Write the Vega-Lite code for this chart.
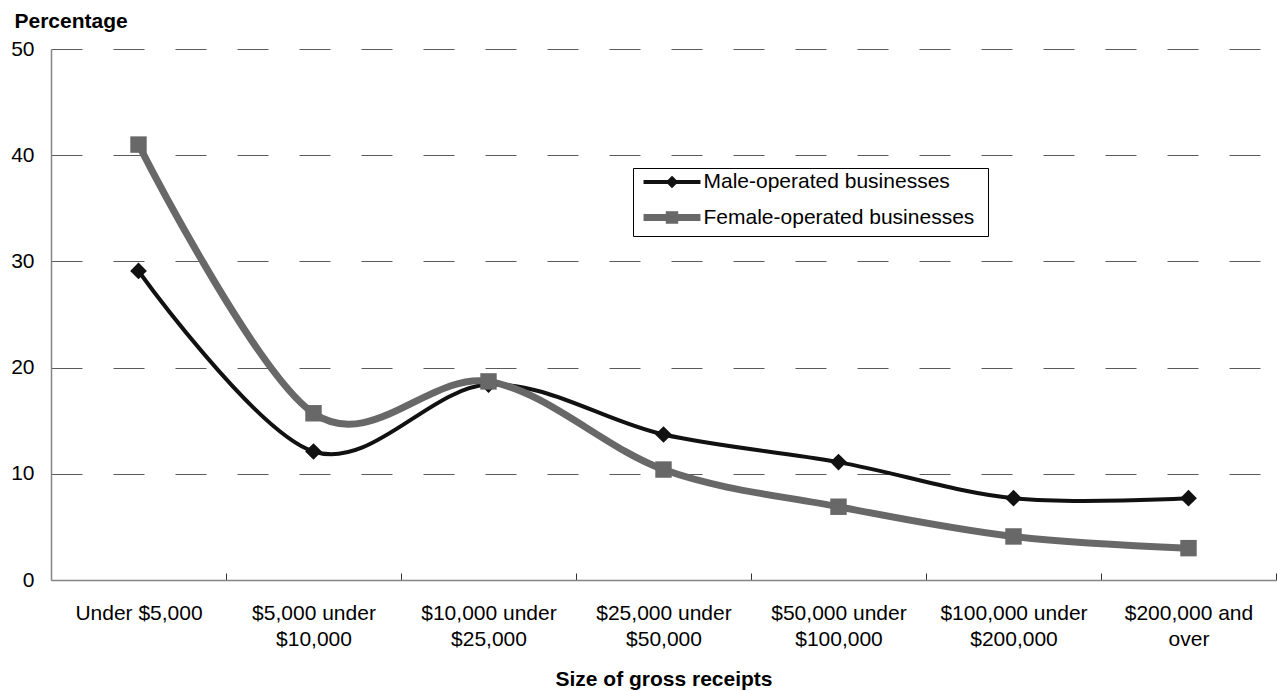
{
  "$schema": "https://vega.github.io/schema/vega-lite/v6.json",
  "width": 1225,
  "height": 531,
  "autosize": {"type": "none"},
  "padding": {"left": 51, "top": 49, "right": 1, "bottom": 111},
  "background": "white",
  "config": {
    "font": "Liberation Sans",
    "view": {"stroke": null},
    "axis": {
      "labelFont": "Liberation Sans",
      "labelFontSize": 21,
      "labelColor": "black",
      "titleFont": "Liberation Sans",
      "titleFontSize": 21,
      "titleFontWeight": "bold",
      "titleColor": "black",
      "domainColor": "#858585",
      "domainWidth": 1.5
    }
  },
  "data": {
    "values": [
      {"size": "Under $5,000", "series": "Male-operated businesses", "pct": 29.1},
      {"size": "$5,000 under $10,000", "series": "Male-operated businesses", "pct": 12.1},
      {"size": "$10,000 under $25,000", "series": "Male-operated businesses", "pct": 18.4},
      {"size": "$25,000 under $50,000", "series": "Male-operated businesses", "pct": 13.7},
      {"size": "$50,000 under $100,000", "series": "Male-operated businesses", "pct": 11.1},
      {"size": "$100,000 under $200,000", "series": "Male-operated businesses", "pct": 7.7},
      {"size": "$200,000 and over", "series": "Male-operated businesses", "pct": 7.7},
      {"size": "Under $5,000", "series": "Female-operated businesses", "pct": 41.0},
      {"size": "$5,000 under $10,000", "series": "Female-operated businesses", "pct": 15.7},
      {"size": "$10,000 under $25,000", "series": "Female-operated businesses", "pct": 18.7},
      {"size": "$25,000 under $50,000", "series": "Female-operated businesses", "pct": 10.4},
      {"size": "$50,000 under $100,000", "series": "Female-operated businesses", "pct": 6.9},
      {"size": "$100,000 under $200,000", "series": "Female-operated businesses", "pct": 4.1},
      {"size": "$200,000 and over", "series": "Female-operated businesses", "pct": 3.0}
    ]
  },
  "encoding": {
    "x": {
      "field": "size",
      "type": "nominal",
      "sort": ["Under $5,000", "$5,000 under $10,000", "$10,000 under $25,000", "$25,000 under $50,000", "$50,000 under $100,000", "$100,000 under $200,000", "$200,000 and over"],
      "scale": {"paddingInner": 0, "paddingOuter": 0},
      "axis": {
        "title": "Size of gross receipts",
        "titleY": 105,
        "titleBaseline": "alphabetic",
        "tickBand": "extent",
        "ticks": true,
        "tickSize": -7,
        "tickColor": "#333333",
        "tickWidth": 1,
        "labelAngle": 0,
        "labelPadding": 29,
        "labelBaseline": "top",
        "labelLineHeight": 26,
        "labelLimit": 300,
        "grid": false,
        "labelExpr": "datum.label == 'Under $5,000' ? datum.label : (indexof(datum.label, ' and ') > 0 ? ['$200,000 and', 'over'] : [slice(datum.label, 0, indexof(datum.label, ' under') + 6), slice(datum.label, indexof(datum.label, ' under') + 7)])"
      }
    },
    "y": {
      "field": "pct",
      "type": "quantitative",
      "scale": {"domain": [0, 50], "nice": false, "zero": true},
      "axis": {
        "values": [0, 10, 20, 30, 40, 50],
        "ticks": false,
        "labelPadding": 17,
        "grid": true,
        "gridColor": "#5a5a5a",
        "gridDash": [31, 31],
        "gridWidth": 1,
        "gridOpacity": {"condition": {"test": "datum.value === 0", "value": 0}, "value": 1},
        "title": "Percentage",
        "titleAngle": 0,
        "titleAlign": "left",
        "titleBaseline": "alphabetic",
        "titleX": -37,
        "titleY": -22
      }
    },
    "color": {
      "field": "series",
      "type": "nominal",
      "scale": {"domain": ["Male-operated businesses", "Female-operated businesses"], "range": ["#111111", "#686868"]},
      "legend": {
        "orient": "none",
        "legendX": 582,
        "legendY": 119,
        "title": " ",
        "titleOrient": "right",
        "titlePadding": 12,
        "titleFontSize": 21,
        "strokeColor": "#000000",
        "fillColor": "white",
        "padding": 1.5,
        "cornerRadius": 0,
        "labelFont": "Liberation Sans",
        "labelFontSize": 21,
        "labelColor": "black",
        "labelLimit": 400,
        "symbolType": "M-2.71,0H2.71M0,-0.33L0.33,0L0,0.33L-0.33,0Z",
        "symbolSize": 441,
        "symbolStrokeWidth": 4,
        "symbolOffset": 23.5,
        "labelOffset": 17.5,
        "rowPadding": 7,
        "encode": {
          "symbols": {
            "update": {
              "shape": {"signal": "datum.value === 'Male-operated businesses' ? 'M-2.71,0H2.71M0,-0.33L0.33,0L0,0.33L-0.33,0Z' : 'M-2.71,0H2.71M-0.26,-0.26H0.26V0.26H-0.26Z'"},
              "strokeWidth": {"signal": "datum.value === 'Male-operated businesses' ? 4 : 7"},
              "stroke": {"signal": "datum.value === 'Male-operated businesses' ? '#111111' : '#686868'"},
              "fill": {"signal": "datum.value === 'Male-operated businesses' ? '#111111' : '#686868'"},
              "opacity": {"value": 1},
              "strokeOpacity": {"value": 1},
              "fillOpacity": {"value": 1}
            }
          }
        }
      }
    }
  },
  "layer": [
    {
      "mark": {"type": "line", "interpolate": "cardinal"},
      "encoding": {
        "strokeWidth": {
          "field": "series",
          "type": "nominal",
          "scale": {"domain": ["Male-operated businesses", "Female-operated businesses"], "range": [4, 7]},
          "legend": null
        }
      }
    },
    {
      "transform": [{"filter": "datum.series === 'Male-operated businesses'"}],
      "mark": {"type": "point", "filled": true, "opacity": 1, "size": 280, "shape": "diamond"}
    },
    {
      "transform": [{"filter": "datum.series === 'Female-operated businesses'"}],
      "mark": {"type": "point", "filled": true, "opacity": 1, "size": 270, "shape": "square"}
    }
  ]
}
